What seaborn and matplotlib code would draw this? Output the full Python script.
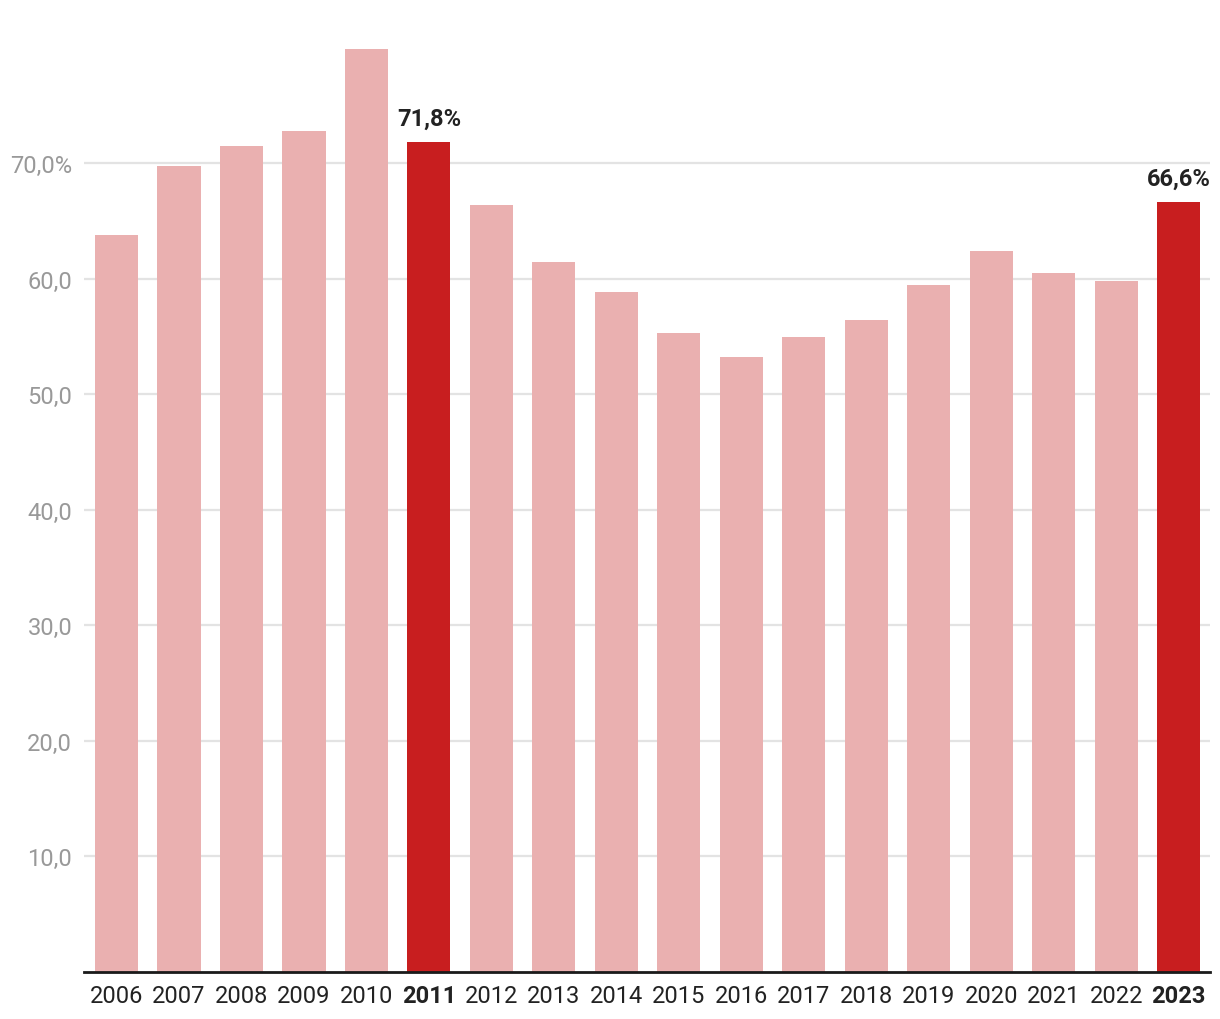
import matplotlib
matplotlib.use("Agg")
import matplotlib.pyplot as plt
import seaborn as sns
import pandas as pd

years = ["2006", "2007", "2008", "2009", "2010", "2011", "2012", "2013", "2014",
         "2015", "2016", "2017", "2018", "2019", "2020", "2021", "2022", "2023"]
values = [63.8, 69.7, 71.5, 72.8, 79.9, 71.8, 66.4, 61.4, 58.8,
          55.3, 53.2, 54.9, 56.4, 59.4, 62.4, 60.5, 59.8, 66.6]
highlight_years = ["2011", "2023"]
highlight_labels = {"2011": "71,8%", "2023": "66,6%"}
yticks = [10, 20, 30, 40, 50, 60, 70]
ytick_labels = ["10,0", "20,0", "30,0", "40,0", "50,0", "60,0", "70,0%"]

light = "#EAB0B0"
dark = "#C81E1F"

df = pd.DataFrame({"year": years, "value": values})
df["hl"] = df["year"].isin(highlight_years).map({True: "hl", False: "base"})

sns.set_theme(style="white")
plt.rcParams["font.family"] = ["Roboto", "DejaVu Sans"]

fig = plt.figure(figsize=(12.2, 10.2), dpi=100)
ax = fig.add_axes([84 / 1220, 47 / 1020, (1210 - 84) / 1220, 924.6 / 1020])

sns.barplot(data=df, x="year", y="value", hue="hl", palette={"hl": dark, "base": light},
            width=0.69, dodge=False, legend=False, ax=ax, saturation=1, linewidth=0)

ax.set_ylim(0, 80)
ax.set_xlim(-0.52, 17.5)
ax.set_yticks(yticks)
ax.set_yticklabels(ytick_labels)
ax.grid(axis="y", color="#e3e3e3", linewidth=1.6)
ax.set_axisbelow(True)
for s in ["top", "right", "left"]:
    ax.spines[s].set_visible(False)
ax.spines["bottom"].set_color("#1a1a1a")
ax.spines["bottom"].set_linewidth(2)
ax.set_xlabel("")
ax.set_ylabel("")
ax.tick_params(axis="y", length=0, pad=8.5, labelsize=17, labelcolor="#999999")
ax.tick_params(axis="x", length=0, pad=9, labelsize=17, labelcolor="#222222")
for lbl in ax.get_xticklabels():
    if lbl.get_text() in highlight_years:
        lbl.set_fontweight("bold")

for i, (y, v) in enumerate(zip(years, values)):
    if y in highlight_labels:
        ax.annotate(highlight_labels[y], (i, v), xytext=(0, 9), textcoords="offset points",
                    ha="center", va="bottom", fontsize=17, fontweight="bold", color="#222222")

fig.savefig("out.png", dpi=100)
